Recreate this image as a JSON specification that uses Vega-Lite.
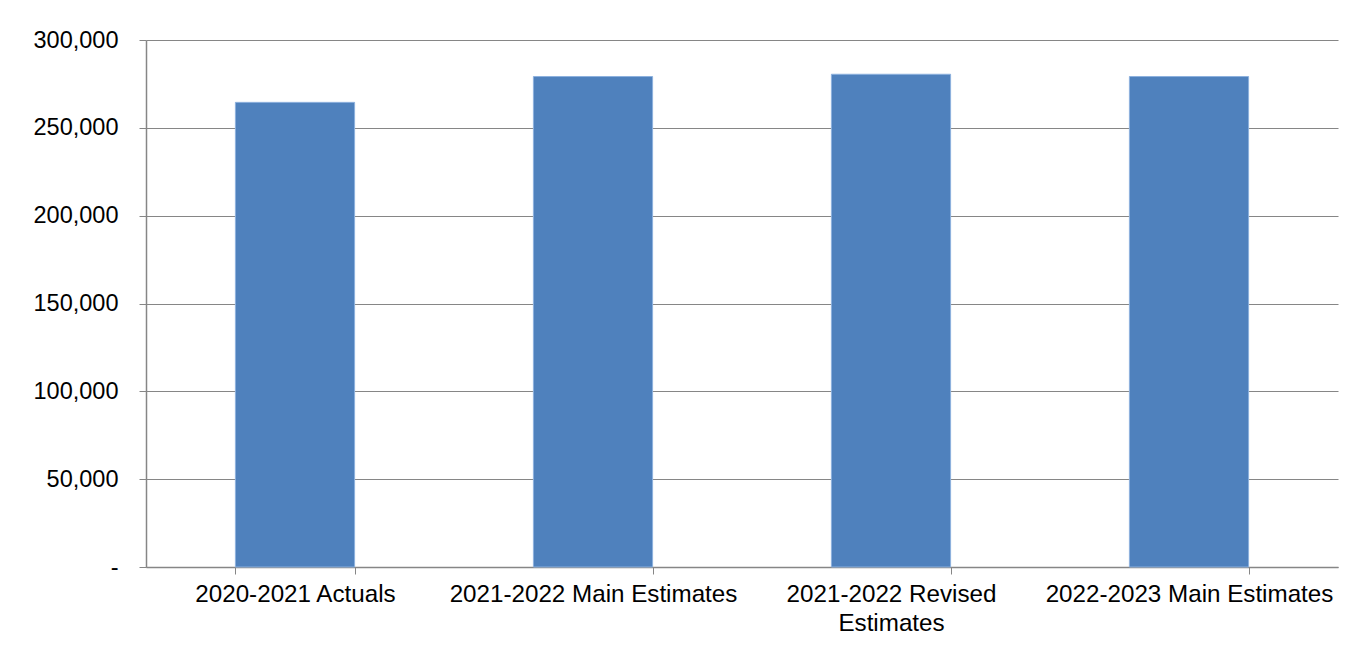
{
  "$schema": "https://vega.github.io/schema/vega-lite/v6.json",
  "width": 1192,
  "height": 527,
  "autosize": "none",
  "padding": {"left": 146, "top": 40, "right": 21, "bottom": 78},
  "background": "white",
  "config": {
    "view": {"stroke": null},
    "font": "Liberation Sans",
    "axis": {"labelFont": "Liberation Sans", "labelColor": "#000000", "titleFont": "Liberation Sans"}
  },
  "data": {
    "values": [
      {"category": "2020-2021 Actuals", "value": 264500},
      {"category": "2021-2022 Main Estimates", "value": 279200},
      {"category": "2021-2022 Revised Estimates", "value": 280500},
      {"category": "2022-2023 Main Estimates", "value": 279200}
    ]
  },
  "mark": {"type": "bar", "color": "#4F81BD", "stroke": "#8DB1DE", "strokeWidth": 1},
  "encoding": {
    "x": {
      "field": "category",
      "type": "nominal",
      "sort": null,
      "scale": {"paddingInner": 0.6, "paddingOuter": 0.3},
      "axis": {
        "title": null,
        "labelAngle": 0,
        "labelFontSize": 24.2,
        "labelLimit": 500,
        "labelPadding": 8,
        "labelLineHeight": 29,
        "labelExpr": "datum.label == '2021-2022 Revised Estimates' ? ['2021-2022 Revised', 'Estimates'] : datum.label",
        "tickBand": "extent",
        "tickSize": 7,
        "tickColor": "#868686",
        "domainColor": "#868686",
        "domainWidth": 1.5,
        "grid": false
      }
    },
    "y": {
      "field": "value",
      "type": "quantitative",
      "scale": {"domain": [0, 300000], "nice": false},
      "axis": {
        "title": null,
        "values": [0, 50000, 100000, 150000, 200000, 250000, 300000],
        "labelExpr": "datum.value == 0 ? '-' : format(datum.value, ',')",
        "labelFontSize": 23.5,
        "labelPadding": 21,
        "tickSize": 7,
        "tickColor": "#868686",
        "domainColor": "#868686",
        "domainWidth": 1.5,
        "gridColor": "#868686",
        "gridWidth": 1.2
      }
    }
  }
}
